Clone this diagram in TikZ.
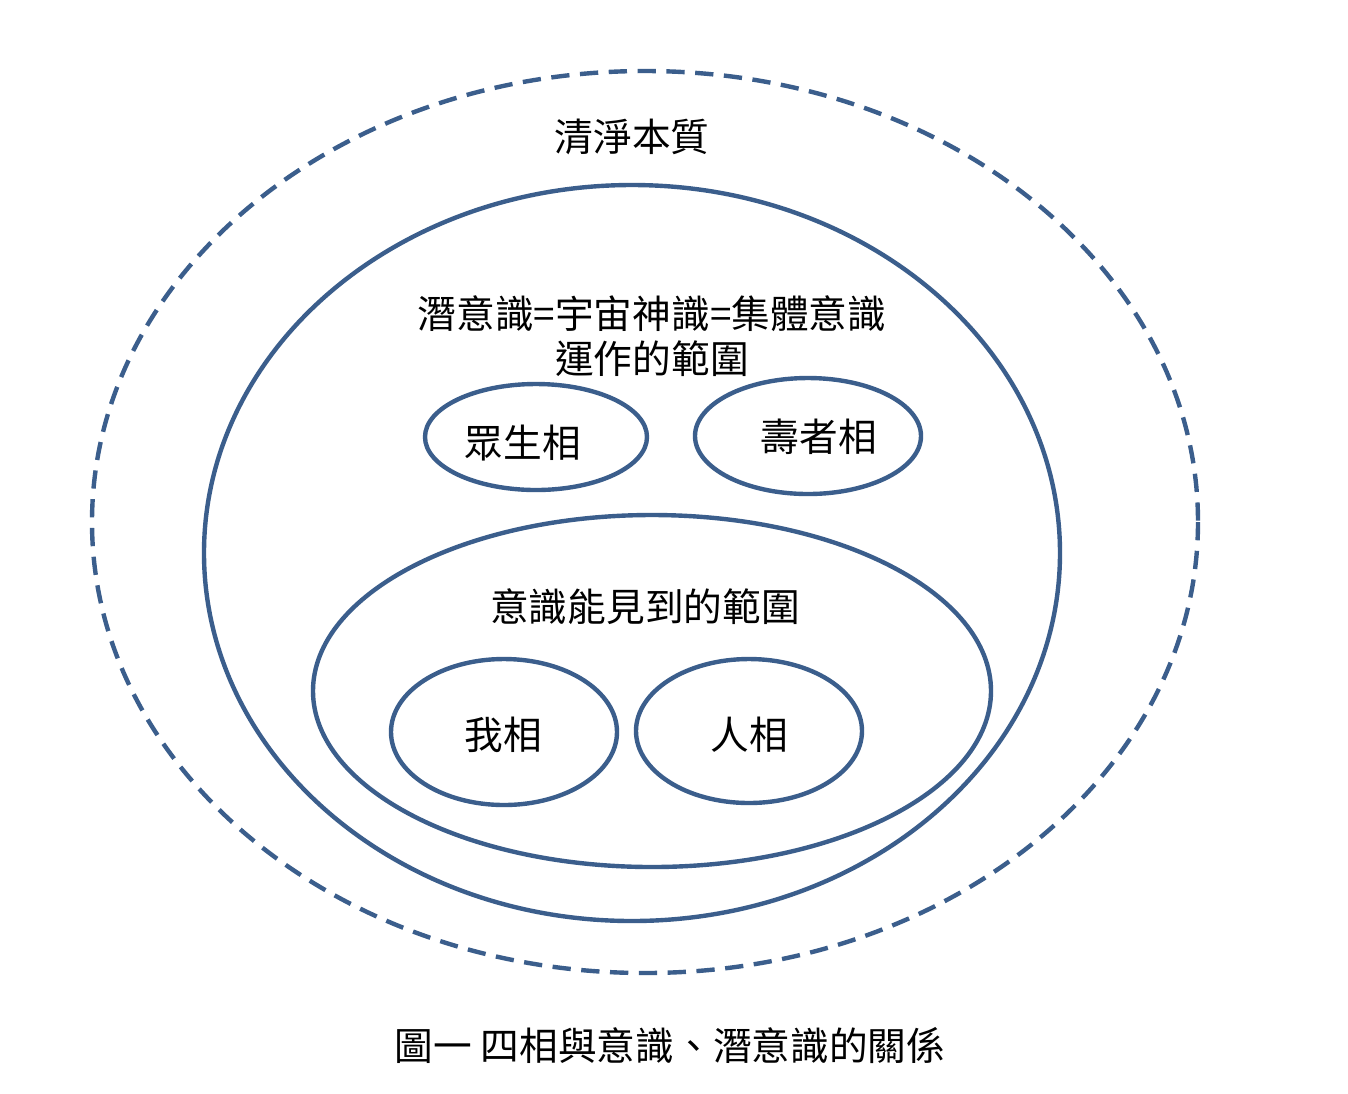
\documentclass[tikz,border=0pt]{standalone}
\usepackage{fontspec}
\setmainfont{Noto Sans CJK TC}
\begin{document}
\begin{tikzpicture}[x=0.01cm,y=-0.01cm,
  ring/.style={draw=ringblue,line width=1.25pt},
  lbl/.style={font=\fontsize{11pt}{13pt}\selectfont,align=center,inner sep=0pt}]
\definecolor{ringblue}{HTML}{3B5E8C}
\useasboundingbox[fill=white] (0,0) rectangle (1348,1093);
% outer dashed
\draw[ring,dash pattern=on 5.2pt off 3pt] (645,522) ellipse [x radius=553, y radius=451];
\node[lbl] (pure) at (632,137) {清淨本質};
% middle
\draw[ring] (632,553) ellipse [x radius=428, y radius=368];
\node[lbl] (sub) at (652,336) {潛意識=宇宙神識=集體意識\\運作的範圍};
% inner big
\draw[ring] (652,691) ellipse [x radius=339, y radius=176];
\node[lbl] (con) at (645,607) {意識能見到的範圍};
% small
\draw[ring] (536,437) ellipse [x radius=111, y radius=53];
\node[lbl] (zs) at (523,443) {眾生相};
\draw[ring] (808,436) ellipse [x radius=113, y radius=58];
\node[lbl] (sz) at (819,437) {壽者相};
\draw[ring] (504,732) ellipse [x radius=113, y radius=73];
\node[lbl] (wo) at (503,735) {我相};
\draw[ring] (749,731) ellipse [x radius=113, y radius=72];
\node[lbl] (ren) at (749,735) {人相};
% caption
\node[lbl] (cap) at (670,1045) {圖一 四相與意識、潛意識的關係};
\end{tikzpicture}
\end{document}
